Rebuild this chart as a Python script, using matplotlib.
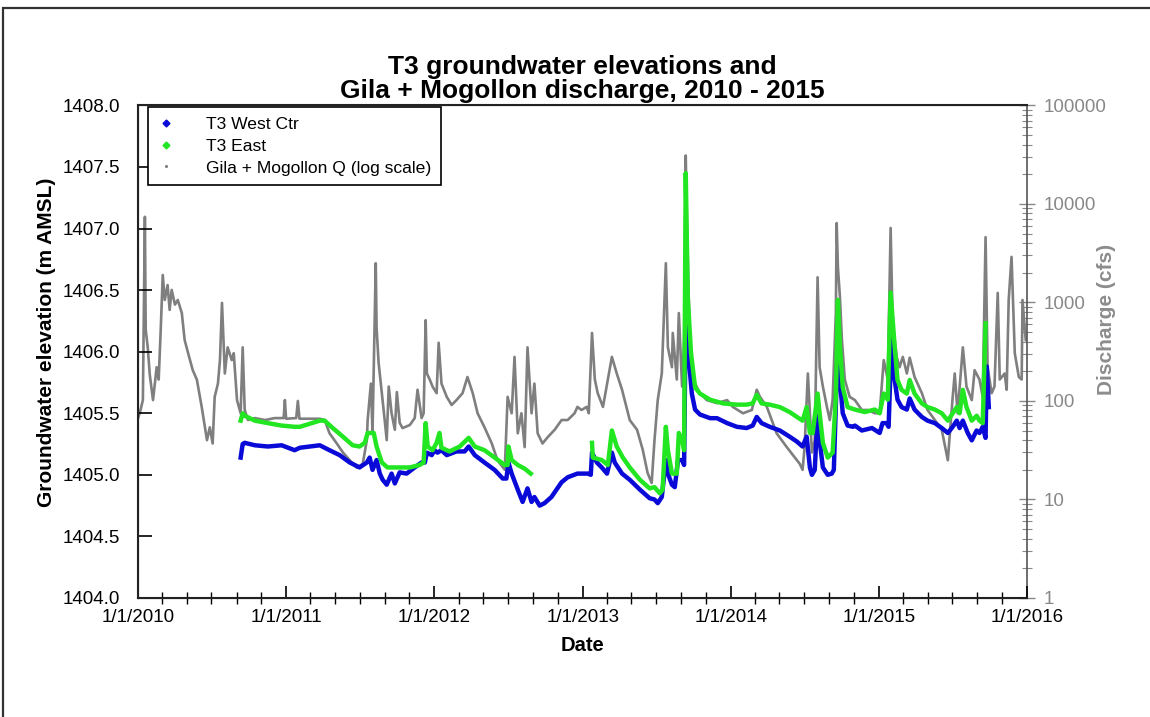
import matplotlib
matplotlib.use('Agg')
import matplotlib.pyplot as plt
import matplotlib.dates as mdates
from matplotlib.lines import Line2D
from matplotlib.patches import Rectangle
from matplotlib.ticker import MultipleLocator, FuncFormatter, LogLocator, NullFormatter
import numpy as np
import pandas as pd

plt.rcParams['font.family'] = ['Liberation Sans', 'DejaVu Sans']

# Gila + Mogollon discharge (cfs)
q_dates = [
    '2010-01-01', '2010-01-06', '2010-01-13', '2010-01-18', '2010-01-20', '2010-01-25', '2010-01-30',
    '2010-02-07', '2010-02-11', '2010-02-16', '2010-02-21', '2010-02-26', '2010-03-03', '2010-03-08',
    '2010-03-15', '2010-03-20', '2010-03-25', '2010-04-02', '2010-04-09', '2010-04-19', '2010-04-26',
    '2010-05-06', '2010-05-16', '2010-05-26', '2010-06-07', '2010-06-20', '2010-06-27', '2010-07-04',
    '2010-07-09', '2010-07-17', '2010-07-22', '2010-07-27', '2010-08-03', '2010-08-10', '2010-08-20',
    '2010-08-25', '2010-09-02', '2010-09-11', '2010-09-16', '2010-09-21', '2010-09-29', '2010-10-16',
    '2010-11-10', '2010-12-04', '2010-12-26', '2010-12-29', '2011-01-01', '2011-01-26', '2011-01-30',
    '2011-02-03', '2011-03-25', '2011-04-06', '2011-04-18', '2011-05-06', '2011-05-21', '2011-06-07',
    '2011-06-24', '2011-07-09', '2011-07-19', '2011-07-21', '2011-07-29', '2011-08-02', '2011-08-10',
    '2011-08-12', '2011-08-17', '2011-08-25', '2011-09-01', '2011-09-06', '2011-09-11', '2011-09-18',
    '2011-09-26', '2011-10-01', '2011-10-08', '2011-10-15', '2011-11-02', '2011-11-14', '2011-11-21',
    '2011-12-01', '2011-12-06', '2011-12-11', '2011-12-14', '2011-12-21', '2011-12-28', '2012-01-07',
    '2012-01-12', '2012-01-19', '2012-02-01', '2012-02-13', '2012-02-25', '2012-03-11', '2012-03-23',
    '2012-04-05', '2012-04-17', '2012-05-04', '2012-05-22', '2012-06-05', '2012-06-23', '2012-06-30',
    '2012-07-10', '2012-07-17', '2012-07-25', '2012-08-03', '2012-08-11', '2012-08-18', '2012-08-28',
    '2012-09-04', '2012-09-12', '2012-09-24', '2012-10-07', '2012-10-24', '2012-11-10', '2012-11-25',
    '2012-12-12', '2012-12-19', '2012-12-29', '2013-01-11', '2013-01-16', '2013-01-24', '2013-01-31',
    '2013-02-07', '2013-02-20', '2013-03-04', '2013-03-14', '2013-03-26', '2013-04-08', '2013-04-27',
    '2013-05-15', '2013-05-29', '2013-06-10', '2013-06-20', '2013-06-27', '2013-07-05', '2013-07-15',
    '2013-07-25', '2013-07-30', '2013-08-09', '2013-08-11', '2013-08-21', '2013-08-26', '2013-09-03',
    '2013-09-08', '2013-09-12', '2013-09-15', '2013-09-22', '2013-09-30', '2013-10-17', '2013-11-03',
    '2013-11-28', '2013-12-23', '2014-01-06', '2014-01-31', '2014-02-22', '2014-03-06', '2014-03-14',
    '2014-03-31', '2014-04-24', '2014-05-19', '2014-06-13', '2014-06-20', '2014-06-27', '2014-07-02',
    '2014-07-10', '2014-07-20', '2014-07-27', '2014-08-03', '2014-08-08', '2014-08-16', '2014-08-26',
    '2014-09-02', '2014-09-09', '2014-09-17', '2014-09-19', '2014-09-22', '2014-09-27', '2014-10-02',
    '2014-10-09', '2014-10-21', '2014-11-03', '2014-11-20', '2014-12-05', '2014-12-22', '2015-01-03',
    '2015-01-13', '2015-01-23', '2015-01-30', '2015-02-04', '2015-02-14', '2015-02-21', '2015-03-01',
    '2015-03-11', '2015-03-18', '2015-03-30', '2015-04-17', '2015-05-01', '2015-05-19', '2015-06-05',
    '2015-06-20', '2015-07-02', '2015-07-07', '2015-07-14', '2015-07-27', '2015-08-05', '2015-08-18',
    '2015-08-25', '2015-09-06', '2015-09-14', '2015-09-21', '2015-09-26', '2015-10-06', '2015-10-13',
    '2015-10-21', '2015-10-26', '2015-11-07', '2015-11-12', '2015-11-17', '2015-11-24', '2015-12-02',
    '2015-12-12', '2015-12-19', '2015-12-21', '2015-12-29',
]
q_cfs = [
    67, 77, 102, 7400, 530, 350, 185,
    102, 145, 220, 165, 530, 1900, 1060,
    1500, 840, 1340, 950, 1060, 780, 415,
    290, 205, 165, 87, 40, 54, 37,
    110, 150, 260, 990, 190, 350, 260,
    305, 102, 75, 350, 81, 64, 67,
    64, 67, 67, 102, 66, 67, 100,
    66, 66, 64, 47, 37, 30, 25,
    21, 23, 40, 64, 150, 47, 2500,
    560, 245, 120, 64, 40, 140, 75,
    51, 123, 60, 53, 57, 67, 130,
    67, 75, 660, 190, 165, 140, 120,
    390, 150, 110, 91, 102, 120, 175,
    120, 75, 54, 37, 25, 20, 110,
    75, 280, 47, 75, 34, 350, 75,
    150, 47, 37, 43, 51, 64, 64,
    75, 87, 81, 87, 75, 490, 165,
    120, 87, 165, 280, 190, 130, 64,
    51, 32, 18.6, 14.7, 40, 102, 190,
    2500, 350, 220, 490, 165, 780, 140,
    415, 31000, 6400, 415, 165, 120, 102,
    95, 102, 87, 75, 81, 130, 110,
    87, 47, 34, 25, 23, 20, 34,
    190, 30, 40, 1800, 220, 140, 87,
    64, 102, 780, 6400, 2300, 1140, 415,
    165, 110, 102, 81, 81, 75, 75,
    260, 165, 5700, 620, 280, 220, 280,
    190, 275, 175, 120, 81, 64, 51,
    25, 110, 190, 75, 350, 140, 102,
    205, 165, 110, 4600, 220, 120, 140,
    1250, 165, 190, 130, 1060, 2900, 305,
    175, 165, 1060, 415,
]

# T3 West Ctr groundwater elevation (m AMSL)
west_dates = [
    '2010-09-11', '2010-09-16', '2010-09-21', '2010-10-16', '2010-11-17', '2010-12-21', '2011-01-22',
    '2011-02-04', '2011-03-25', '2011-04-18', '2011-05-13', '2011-06-07', '2011-07-01', '2011-07-19',
    '2011-07-26', '2011-08-02', '2011-08-12', '2011-08-20', '2011-08-27', '2011-09-06', '2011-09-18',
    '2011-09-26', '2011-10-08', '2011-10-25', '2011-11-14', '2011-12-01', '2011-12-09', '2011-12-14',
    '2011-12-26', '2012-01-02', '2012-01-09', '2012-01-19', '2012-02-01', '2012-02-25', '2012-03-16',
    '2012-03-26', '2012-04-10', '2012-05-04', '2012-05-29', '2012-06-18', '2012-06-27', '2012-07-02',
    '2012-07-10', '2012-07-25', '2012-08-06', '2012-08-18', '2012-08-28', '2012-09-04', '2012-09-17',
    '2012-09-29', '2012-10-16', '2012-11-10', '2012-11-25', '2012-12-19', '2013-01-14', '2013-01-21',
    '2013-01-24', '2013-02-05', '2013-02-17', '2013-03-02', '2013-03-14', '2013-03-21', '2013-04-08',
    '2013-04-27', '2013-05-22', '2013-06-15', '2013-06-27', '2013-07-05', '2013-07-15', '2013-07-25',
    '2013-07-30', '2013-08-09', '2013-08-16', '2013-08-24', '2013-09-03', '2013-09-08', '2013-09-12',
    '2013-09-17', '2013-09-27', '2013-10-05', '2013-10-17', '2013-11-11', '2013-11-28', '2013-12-23',
    '2014-01-16', '2014-02-09', '2014-02-24', '2014-03-06', '2014-03-18', '2014-04-07', '2014-05-02',
    '2014-05-26', '2014-06-13', '2014-06-27', '2014-07-07', '2014-07-15', '2014-07-20', '2014-07-27',
    '2014-08-03', '2014-08-08', '2014-08-16', '2014-08-28', '2014-09-07', '2014-09-12', '2014-09-22',
    '2014-09-27', '2014-10-04', '2014-10-16', '2014-10-29', '2014-11-03', '2014-11-20', '2014-12-15',
    '2015-01-03', '2015-01-10', '2015-01-20', '2015-01-25', '2015-02-02', '2015-02-09', '2015-02-16',
    '2015-02-26', '2015-03-11', '2015-03-18', '2015-03-30', '2015-04-17', '2015-05-01', '2015-05-19',
    '2015-06-05', '2015-06-20', '2015-07-02', '2015-07-12', '2015-07-19', '2015-07-27', '2015-08-08',
    '2015-08-18', '2015-08-30', '2015-09-06', '2015-09-14', '2015-09-21', '2015-09-24', '2015-09-29',
]
west_elev = [
    1405.14, 1405.25, 1405.26, 1405.24, 1405.23, 1405.24, 1405.20,
    1405.22, 1405.24, 1405.20, 1405.16, 1405.10, 1405.06, 1405.10,
    1405.14, 1405.04, 1405.12, 1405.01, 1404.96, 1404.92, 1405.01,
    1404.93, 1405.02, 1405.01, 1405.06, 1405.10, 1405.10, 1405.18,
    1405.16, 1405.20, 1405.18, 1405.20, 1405.16, 1405.19, 1405.19,
    1405.23, 1405.16, 1405.10, 1405.04, 1404.97, 1404.97, 1405.10,
    1405.01, 1404.88, 1404.78, 1404.89, 1404.78, 1404.82, 1404.75,
    1404.77, 1404.82, 1404.94, 1404.98, 1405.01, 1405.01, 1405.00,
    1405.18, 1405.10, 1405.06, 1405.01, 1405.18, 1405.10, 1405.01,
    1404.96, 1404.88, 1404.81, 1404.80, 1404.77, 1404.82, 1405.12,
    1405.01, 1404.92, 1404.90, 1405.12, 1405.12, 1405.08, 1406.35,
    1406.04, 1405.66, 1405.53, 1405.49, 1405.46, 1405.46, 1405.42,
    1405.39, 1405.38, 1405.40, 1405.47, 1405.42, 1405.39, 1405.36,
    1405.31, 1405.27, 1405.23, 1405.31, 1405.06, 1405.00, 1405.04,
    1405.50, 1405.28, 1405.06, 1405.00, 1405.01, 1405.04, 1406.09,
    1405.77, 1405.50, 1405.40, 1405.39, 1405.40, 1405.36, 1405.38,
    1405.34, 1405.42, 1405.42, 1405.39, 1406.18, 1405.77, 1405.61,
    1405.55, 1405.53, 1405.62, 1405.53, 1405.47, 1405.44, 1405.42,
    1405.38, 1405.34, 1405.39, 1405.44, 1405.38, 1405.44, 1405.34,
    1405.28, 1405.36, 1405.34, 1405.39, 1405.30, 1405.88, 1405.55,
]

# T3 East groundwater elevation (m AMSL); no record from Sep 2012 to Jan 2013
east_dates = [
    '2010-09-11', '2010-09-16', '2010-09-21', '2010-10-16', '2010-11-17', '2010-12-21', '2011-01-22',
    '2011-02-04', '2011-03-25', '2011-04-06', '2011-04-26', '2011-05-21', '2011-06-14', '2011-07-01',
    '2011-07-14', '2011-07-21', '2011-08-05', '2011-08-12', '2011-08-25', '2011-09-08', '2011-10-08',
    '2011-11-02', '2011-11-26', '2011-12-06', '2011-12-11', '2011-12-16', '2011-12-28', '2012-01-07',
    '2012-01-14', '2012-01-19', '2012-02-08', '2012-03-04', '2012-03-26', '2012-04-10', '2012-05-04',
    '2012-05-29', '2012-06-23', '2012-06-30', '2012-07-02', '2012-07-10', '2012-07-25', '2012-08-11',
    '2012-08-26', '2012-11-01', '2013-01-24', '2013-01-26', '2013-02-17', '2013-03-04', '2013-03-14',
    '2013-03-26', '2013-04-10', '2013-04-27', '2013-05-22', '2013-06-15', '2013-06-27', '2013-07-10',
    '2013-07-17', '2013-07-25', '2013-07-30', '2013-08-09', '2013-08-21', '2013-08-26', '2013-09-03',
    '2013-09-08', '2013-09-12', '2013-09-17', '2013-09-25', '2013-10-05', '2013-10-17', '2013-11-11',
    '2013-12-13', '2014-01-16', '2014-02-09', '2014-02-24', '2014-03-06', '2014-03-18', '2014-04-07',
    '2014-05-02', '2014-05-26', '2014-06-13', '2014-06-27', '2014-07-07', '2014-07-15', '2014-07-22',
    '2014-08-03', '2014-08-08', '2014-08-16', '2014-08-28', '2014-09-09', '2014-09-17', '2014-09-22',
    '2014-09-27', '2014-10-04', '2014-10-16', '2014-11-03', '2014-11-27', '2014-12-22', '2015-01-03',
    '2015-01-13', '2015-01-23', '2015-01-30', '2015-02-09', '2015-02-16', '2015-02-26', '2015-03-11',
    '2015-03-18', '2015-03-30', '2015-04-17', '2015-05-01', '2015-05-19', '2015-06-05', '2015-06-20',
    '2015-07-02', '2015-07-12', '2015-07-19', '2015-07-27', '2015-08-05', '2015-08-18', '2015-08-30',
    '2015-09-06', '2015-09-14', '2015-09-21',
]
east_elev = [
    1405.44, 1405.50, 1405.48, 1405.44, 1405.42, 1405.40, 1405.39,
    1405.39, 1405.44, 1405.44, 1405.38, 1405.31, 1405.24, 1405.23,
    1405.26, 1405.34, 1405.34, 1405.23, 1405.10, 1405.06, 1405.06,
    1405.06, 1405.08, 1405.10, 1405.42, 1405.23, 1405.20, 1405.26,
    1405.34, 1405.22, 1405.19, 1405.23, 1405.30, 1405.23, 1405.20,
    1405.14, 1405.08, 1405.08, 1405.23, 1405.12, 1405.08, 1405.05,
    1405.01, np.nan, 1405.26, 1405.14, 1405.12, 1405.08, 1405.36,
    1405.23, 1405.14, 1405.06, 1404.96, 1404.89, 1404.90, 1404.85,
    1404.88, 1405.39, 1405.20, 1405.01, 1405.01, 1405.34, 1405.28,
    1405.20, 1407.45, 1406.44, 1405.99, 1405.71, 1405.66, 1405.61,
    1405.58, 1405.57, 1405.57, 1405.58, 1405.65, 1405.58, 1405.57,
    1405.55, 1405.51, 1405.47, 1405.44, 1405.55, 1405.34, 1405.34,
    1405.66, 1405.50, 1405.26, 1405.14, 1405.18, 1405.63, 1406.42,
    1406.04, 1405.71, 1405.55, 1405.53, 1405.51, 1405.53, 1405.50,
    1405.66, 1405.61, 1406.48, 1406.04, 1405.77, 1405.69, 1405.66,
    1405.77, 1405.66, 1405.58, 1405.55, 1405.53, 1405.50, 1405.44,
    1405.50, 1405.55, 1405.50, 1405.69, 1405.55, 1405.44, 1405.48,
    1405.44, 1405.42, 1406.23,
]

legend_labels = ['T3 West Ctr', 'T3 East', 'Gila + Mogollon Q (log scale)']

blue = '#0a0ad8'
green = '#22e622'
grey = '#7f7f7f'

fig = plt.figure(figsize=(11.5, 7.17), dpi=100)
ax = fig.add_axes([0.12, 0.166, 0.773, 0.687])
ax2 = ax.twinx()
# groundwater on top of the discharge dots
ax.set_zorder(ax2.get_zorder() + 1)
ax.patch.set_visible(False)

ax2.plot(pd.to_datetime(q_dates), q_cfs, color=grey, lw=1.9)
ax.plot(pd.to_datetime(west_dates), west_elev, color=blue, lw=3.2)
ax.plot(pd.to_datetime(east_dates), east_elev, color=green, lw=3.2)

# left axis
ax.set_ylim(1404.0, 1408.0)
ax.yaxis.set_major_locator(MultipleLocator(0.5))
ax.yaxis.set_major_formatter(FuncFormatter(lambda v, p: f'{v:.1f}'))
ax.set_ylabel('Groundwater elevation (m AMSL)', fontsize=15, fontweight='bold')
ax.yaxis.set_label_coords(-0.092, 0.52)
ax.tick_params(axis='y', direction='in', length=10, width=1.2, labelsize=13.5, pad=13)

# date axis
ax.set_xlim(pd.Timestamp('2010-01-01'), pd.Timestamp('2016-01-01'))
ax.xaxis.set_major_locator(mdates.YearLocator())
ax.xaxis.set_minor_locator(mdates.MonthLocator(bymonth=[3, 5, 7, 9, 11]))
ax.xaxis.set_major_formatter(mdates.DateFormatter('%-m/%-d/%Y'))
ax.tick_params(axis='x', which='major', direction='in', length=9, width=1.2, labelsize=13.5, pad=8)
ax.tick_params(axis='x', which='minor', direction='inout', length=8, width=1.0)
ax.set_xlabel('Date', fontsize=14.5, fontweight='bold', labelpad=7)

# right axis, log discharge
ax2.set_yscale('log')
ax2.set_ylim(1, 1e5)
ax2.yaxis.set_major_locator(LogLocator(base=10))
ax2.yaxis.set_minor_locator(LogLocator(base=10, subs=np.arange(2, 10)))
ax2.yaxis.set_minor_formatter(NullFormatter())
ax2.yaxis.set_major_formatter(FuncFormatter(lambda v, p: f'{v:g}'))
ax2.tick_params(axis='y', which='major', direction='inout', length=12, width=1.0,
                colors='#888888', labelsize=13.5, pad=6)
ax2.tick_params(axis='y', which='minor', direction='inout', length=7, width=0.8, colors='#888888')
ax2.set_ylabel('Discharge (cfs)', fontsize=15, fontweight='bold', color='#8c8c8c')
ax2.yaxis.set_label_coords(1.079, 0.565)

for side in ['left', 'bottom', 'top']:
    ax.spines[side].set_linewidth(1.5)
    ax.spines[side].set_color('#222222')
ax2.spines['right'].set_color('#555555')
ax2.spines['right'].set_linewidth(1.2)
ax.spines['right'].set_visible(False)

ax.set_title('T3 groundwater elevations and\nGila + Mogollon discharge, 2010 - 2015',
             fontsize=19, fontweight='bold', linespacing=1.0, pad=5)

handles = [
    Line2D([], [], ls='none', marker='D', ms=3.5, color=blue),
    Line2D([], [], ls='none', marker='D', ms=3.5, color=green),
    Line2D([], [], ls='none', marker='.', ms=2.5, color=grey),
]
leg = ax.legend(handles, legend_labels, loc='upper left', bbox_to_anchor=(0.011, 0.997),
                borderaxespad=0, fancybox=False, edgecolor='black', framealpha=1,
                fontsize=12.6, handlelength=1.0, handletextpad=1.8, labelspacing=0.38,
                borderpad=0.55)
leg.get_frame().set_linewidth(1.2)

# page border
fig.add_artist(Rectangle((0.0026, -0.05), 1.1, 1.0388, transform=fig.transFigure,
                         fill=False, ec='#333333', lw=1.6))

fig.savefig('out.png', dpi=100)
